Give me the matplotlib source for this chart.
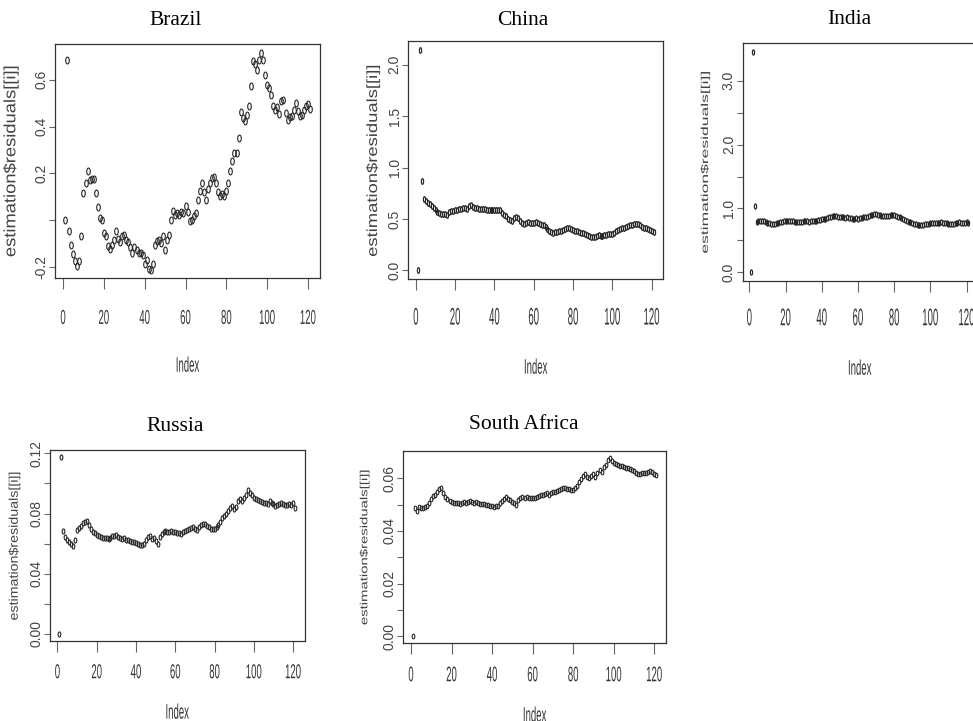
import matplotlib
matplotlib.use("Agg")
import matplotlib.pyplot as plt
from matplotlib.path import Path
from matplotlib.patheffects import AbstractPathEffect
from matplotlib.transforms import Affine2D

# ---------------- data ----------------
index = list(range(1, 122))
countries = ["Brazil", "China", "India", "Russia", "South Africa"]
xticks = [0, 20, 40, 60, 80, 100, 120]
xticklabels = ["0", "20", "40", "60", "80", "100", "120"]

brazil = [
    0.0, 0.686, -0.044, -0.107, -0.144, -0.175, -0.196, -0.175, -0.068, 0.117,
    0.159, 0.212, 0.174, 0.177, 0.177, 0.117, 0.057, 0.010, 0.000, -0.054,
    -0.068, -0.108, -0.122, -0.104, -0.083, -0.044, -0.080, -0.094, -0.068, -0.065,
    -0.083, -0.094, -0.115, -0.140, -0.114, -0.125, -0.140, -0.140, -0.147, -0.189,
    -0.168, -0.208, -0.211, -0.189, -0.104, -0.090, -0.083, -0.097, -0.068, -0.125,
    -0.083, -0.061, 0.003, 0.038, 0.024, 0.031, 0.024, 0.036, 0.031, 0.060,
    0.034, -0.004, 0.003, 0.020, 0.031, 0.088, 0.124, 0.159, 0.120, 0.088,
    0.134, 0.159, 0.181, 0.184, 0.159, 0.120, 0.102, 0.112, 0.102, 0.124,
    0.159, 0.209, 0.252, 0.288, 0.288, 0.352, 0.463, 0.437, 0.423, 0.451,
    0.487, 0.572, 0.679, 0.669, 0.643, 0.686, 0.715, 0.683, 0.622, 0.579,
    0.565, 0.537, 0.490, 0.473, 0.484, 0.456, 0.508, 0.512, 0.458, 0.427,
    0.441, 0.444, 0.473, 0.501, 0.465, 0.444, 0.451, 0.473, 0.490, 0.498, 0.475]

china = [
    0.0, 2.14, 0.865, 0.69, 0.67, 0.655, 0.645, 0.63, 0.61, 0.585,
    0.565, 0.555, 0.55, 0.552, 0.545, 0.535, 0.57, 0.58, 0.575, 0.585,
    0.59, 0.595, 0.60, 0.605, 0.61, 0.60, 0.625, 0.635, 0.62, 0.61,
    0.605, 0.60, 0.60, 0.595, 0.595, 0.59, 0.59, 0.585, 0.585, 0.585,
    0.59, 0.588, 0.585, 0.56, 0.54, 0.525, 0.50, 0.49, 0.485, 0.51,
    0.52, 0.505, 0.48, 0.46, 0.455, 0.465, 0.47, 0.465, 0.46, 0.465,
    0.47, 0.46, 0.45, 0.445, 0.44, 0.42, 0.40, 0.385, 0.37, 0.365,
    0.37, 0.375, 0.38, 0.38, 0.39, 0.40, 0.415, 0.41, 0.40, 0.39,
    0.385, 0.38, 0.375, 0.365, 0.36, 0.35, 0.345, 0.335, 0.33, 0.325,
    0.33, 0.335, 0.34, 0.335, 0.335, 0.34, 0.345, 0.35, 0.35, 0.355,
    0.365, 0.38, 0.39, 0.40, 0.41, 0.415, 0.42, 0.43, 0.44, 0.445,
    0.448, 0.45, 0.448, 0.44, 0.425, 0.415, 0.41, 0.40, 0.395, 0.385, 0.37]

india = [
    0.0, 3.45, 1.03, 0.79, 0.80, 0.81, 0.80, 0.805, 0.79, 0.775,
    0.765, 0.755, 0.75, 0.76, 0.765, 0.77, 0.78, 0.79, 0.80, 0.805,
    0.80, 0.795, 0.80, 0.795, 0.79, 0.785, 0.78, 0.785, 0.79, 0.795,
    0.80, 0.795, 0.79, 0.795, 0.80, 0.80, 0.805, 0.815, 0.82, 0.83,
    0.835, 0.84, 0.85, 0.86, 0.87, 0.875, 0.88, 0.875, 0.87, 0.865,
    0.86, 0.86, 0.855, 0.86, 0.85, 0.845, 0.84, 0.84, 0.845, 0.84,
    0.845, 0.85, 0.86, 0.865, 0.87, 0.88, 0.89, 0.90, 0.91, 0.905,
    0.895, 0.89, 0.885, 0.88, 0.88, 0.875, 0.885, 0.89, 0.895, 0.89,
    0.88, 0.87, 0.86, 0.85, 0.83, 0.815, 0.80, 0.79, 0.78, 0.77,
    0.76, 0.75, 0.745, 0.74, 0.735, 0.74, 0.75, 0.755, 0.76, 0.765,
    0.77, 0.775, 0.775, 0.77, 0.775, 0.78, 0.775, 0.77, 0.765, 0.76,
    0.755, 0.75, 0.755, 0.765, 0.775, 0.78, 0.775, 0.77, 0.775, 0.78, 0.775]

russia = [
    0.0, 0.1175, 0.0685, 0.0645, 0.0625, 0.061, 0.060, 0.0585, 0.0625, 0.069,
    0.0705, 0.072, 0.0735, 0.0745, 0.0748, 0.0725, 0.070, 0.068, 0.067, 0.066,
    0.065, 0.0645, 0.064, 0.0635, 0.0638, 0.063, 0.064, 0.065, 0.0648, 0.0655,
    0.0645, 0.064, 0.0632, 0.0635, 0.0625, 0.0622, 0.062, 0.0612, 0.0608, 0.0605,
    0.0595, 0.0592, 0.0588, 0.0595, 0.0625, 0.0645, 0.0648, 0.063, 0.0635, 0.0615,
    0.060, 0.0645, 0.0665, 0.0678, 0.0685, 0.068, 0.0675, 0.0685, 0.068, 0.0678,
    0.0672, 0.067, 0.0665, 0.0675, 0.0685, 0.0688, 0.0698, 0.0705, 0.0712, 0.070,
    0.0692, 0.071, 0.0722, 0.0732, 0.0728, 0.0715, 0.0708, 0.070, 0.0698, 0.070,
    0.0708, 0.0725, 0.0745, 0.0768, 0.0785, 0.080, 0.082, 0.0838, 0.0852, 0.0832,
    0.0842, 0.0885, 0.0895, 0.088, 0.0905, 0.0925, 0.0955, 0.0935, 0.092, 0.0905,
    0.0895, 0.089, 0.0882, 0.0875, 0.0868, 0.0872, 0.0865, 0.0885, 0.0872, 0.086,
    0.0852, 0.0858, 0.0862, 0.0868, 0.0862, 0.0855, 0.0858, 0.0862, 0.0855, 0.0868, 0.0838]

south_africa = [
    0.0, 0.0487, 0.0475, 0.0492, 0.0488, 0.0487, 0.0492, 0.0496, 0.0508, 0.052,
    0.0532, 0.0538, 0.0548, 0.0558, 0.0565, 0.0545, 0.0528, 0.052, 0.0515, 0.0512,
    0.0508, 0.0506, 0.0505, 0.0503, 0.0508, 0.051, 0.0507, 0.0512, 0.0513, 0.0512,
    0.0508, 0.051, 0.0506, 0.0502, 0.0503, 0.0502, 0.0498, 0.0497, 0.0496, 0.0494,
    0.0493, 0.0494, 0.0495, 0.0505, 0.0515, 0.0522, 0.0528, 0.0522, 0.0518, 0.051,
    0.0505, 0.050, 0.0518, 0.0526, 0.0528, 0.0527, 0.0528, 0.0525, 0.0524, 0.0525,
    0.0526, 0.0528, 0.0532, 0.0535, 0.0538, 0.054, 0.0543, 0.0538, 0.0545, 0.0548,
    0.055, 0.0552, 0.0557, 0.056, 0.0562, 0.0563, 0.056, 0.0558, 0.0557, 0.0556,
    0.0562, 0.0572, 0.0585, 0.0598, 0.061, 0.0616, 0.0605, 0.060, 0.0608, 0.0615,
    0.0605, 0.0622, 0.063, 0.0625, 0.0642, 0.0652, 0.0668, 0.0677, 0.0665, 0.066,
    0.0655, 0.0652, 0.0648, 0.0646, 0.0643, 0.064, 0.0638, 0.0635, 0.063, 0.0627,
    0.0622, 0.0618, 0.0617, 0.062, 0.0621, 0.0622, 0.0626, 0.0629, 0.0625, 0.0618, 0.0612]

series = [brazil, china, india, russia, south_africa]

yticks_list = [
    [-0.2, 0.0, 0.2, 0.4, 0.6],
    [0.0, 0.5, 1.0, 1.5, 2.0],
    [0.0, 0.5, 1.0, 1.5, 2.0, 2.5, 3.0],
    [0.0, 0.02, 0.04, 0.06, 0.08, 0.10, 0.12],
    [0.0, 0.01, 0.02, 0.03, 0.04, 0.05, 0.06],
]
yticklabels_list = [
    ["-0.2", "", "0.2", "0.4", "0.6"],
    ["0.0", "0.5", "1.0", "1.5", "2.0"],
    ["0.0", "", "1.0", "", "2.0", "", "3.0"],
    ["0.00", "", "0.04", "", "0.08", "", "0.12"],
    ["0.00", "", "0.02", "", "0.04", "", "0.06"],
]
ylabel_text = r"estimation\$residuals[[i]]"
xlabel_text = "Index"

for s in series:
    assert len(s) == len(index)

# ---------------- layout / style (pixel based) ----------------
W, H = 973, 721
PX = 72.0 / 100.0  # points per pixel at dpi 100

layout = [
    dict(box=(55.3, 44.3, 319.8, 278.3), title=(175.3, 25.3), mk=(4.7, 8.0), mew=0.8,
         xoff=37.4, xsy=2.1, xlab=363.0, yright=18.3, ysize=11.8, ysy=1.12),
    dict(box=(408.4, 41.3, 663.0, 279.3), title=(523.0, 25.0), mk=(3.4, 6.9), mew=0.85,
         xoff=35.7, xsy=2.5, xlab=365.0, yright=380.0, ysize=10.6, ysy=1.25),
    dict(box=(742.5, 43.3, 977.0, 281.0), title=(849.7, 24.0), mk=(3.4, 6.4), mew=0.85,
         xoff=34.7, xsy=2.5, xlab=366.0, yright=710.0, ysize=7.2, ysy=1.75),
    dict(box=(50.0, 450.0, 304.5, 641.0), title=(175.3, 430.7), mk=(3.8, 6.2), mew=0.8,
         xoff=29.0, xsy=2.1, xlab=710.0, yright=20.7, ysize=9.0, ysy=1.14),
    dict(box=(403.3, 451.0, 666.0, 643.3), title=(523.3, 429.3), mk=(3.8, 5.8), mew=0.8,
         xoff=29.4, xsy=2.2, xlab=713.0, yright=369.3, ysize=7.5, ysy=1.43),
]


class Stretch(AbstractPathEffect):
    """Scale the drawn glyphs about their own ink centre (text stays a Text)."""

    def __init__(self, sx=1.0, sy=1.0):
        super().__init__()
        self.sx, self.sy = sx, sy

    def draw_path(self, renderer, gc, tpath, affine, rgbFace=None):
        bb = tpath.get_extents(affine)
        cx = 0.5 * (bb.x0 + bb.x1)
        cy = 0.5 * (bb.y0 + bb.y1)
        extra = Affine2D().translate(-cx, -cy).scale(self.sx, self.sy).translate(cx, cy)
        renderer.draw_path(gc, tpath, affine + extra, rgbFace)


def ellipse_marker(w, h):
    circ = Path.unit_circle()
    return Path(circ.vertices * [w / h, 1.0], circ.codes)


SANS = ["Liberation Sans", "DejaVu Sans"]
SERIF = ["Liberation Serif", "DejaVu Serif"]
plt.rcParams["font.family"] = SANS
TXT = "#333333"
YLAB = "#444444"
XT_SIZE = 6.9
XT_LEN = 10.7
YT_LEN = 5.7

fig = plt.figure(figsize=(W / 100, H / 100), dpi=100)
fig.patch.set_facecolor("white")

for name, vals, yt, ytl, lay in zip(countries, series, yticks_list, yticklabels_list, layout):
    l, t, r, b = lay["box"]
    ax = fig.add_axes([l / W, 1 - b / H, (r - l) / W, (b - t) / H])
    mew_px = lay["mew"] / PX
    mw, mh = lay["mk"]
    marker = ellipse_marker(max(mw - mew_px, 0.8), mh - mew_px)
    ax.plot(index, vals, linestyle="none", marker=marker,
            markersize=(mh - mew_px) * PX, markerfacecolor="none",
            markeredgecolor="#262626", markeredgewidth=lay["mew"])

    lo, hi = min(vals), max(vals)
    span = hi - lo
    ax.set_ylim(lo - 0.04 * span, hi + 0.04 * span)
    ax.set_xlim(1 - 0.04 * 120, 121 + 0.04 * 120)

    for sp in ax.spines.values():
        sp.set_color("#333333")
        sp.set_linewidth(0.9)

    ax.set_xticks(xticks, xticklabels)
    ax.set_yticks(yt, ytl)
    xpad = (lay["xoff"] - XT_LEN - 0.358 * XT_SIZE / PX) * PX
    ax.tick_params(axis="x", direction="out", length=XT_LEN * PX, width=0.8,
                   color="#666666", pad=xpad, labelsize=XT_SIZE, labelcolor=TXT)
    ax.tick_params(axis="y", direction="out", length=YT_LEN * PX, width=0.8,
                   color="#666666", pad=1.0 * PX, labelsize=10, labelcolor=YLAB,
                   labelrotation=90)
    for lbl in ax.get_xticklabels():
        lbl.set_fontfamily(SANS)
        lbl.set_path_effects([Stretch(1.0, lay["xsy"])])
    for lbl in ax.get_yticklabels():
        lbl.set_fontfamily(SANS)
        lbl.set_verticalalignment("center")

    # x label "Index"
    ax.set_xlabel(xlabel_text, fontsize=XT_SIZE, color=TXT, family=SANS)
    ax.xaxis.label.set_path_effects([Stretch(1.0, 2.2)])
    top_px = lay["xlab"] - 0.358 * XT_SIZE / PX
    ax.xaxis.set_label_coords(0.5, -(top_px - b) / (b - t))

    # y label
    ax.set_ylabel(ylabel_text, fontsize=lay["ysize"], color=YLAB, family=SANS)
    ax.yaxis.label.set_path_effects([Stretch(1.0, lay["ysy"])])
    ax.yaxis.set_label_coords((lay["yright"] - l) / (r - l), 0.5)

    # title
    cx, base = lay["title"]
    ax.set_title(name, x=(cx - l) / (r - l), y=(b - base) / (b - t), pad=0,
                 fontsize=15.5, family=SERIF, color="black")

fig.savefig("out.png", dpi=100, facecolor="white")
